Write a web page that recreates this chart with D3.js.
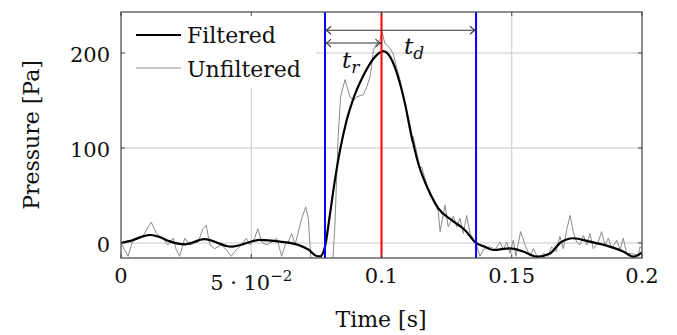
<!DOCTYPE html>
<html>
<head>
<meta charset="utf-8">
<script src="https://cdn.jsdelivr.net/npm/d3@7"></script>
<style>
  body { margin: 0; background: #fff; }
  text { font-family: "DejaVu Serif", serif; fill: #111; }
</style>
</head>
<body>
<div id="chart"></div>
<script>
// time [s] and pressure [Pa]
var rawTime = [0, 0.0027, 0.0046, 0.0084, 0.0116, 0.0136, 0.0161, 0.0180, 0.0200, 0.0212, 0.0225, 0.0245, 0.0264,
  0.0296, 0.0315, 0.0327, 0.0341, 0.0360, 0.0385, 0.0404, 0.0423, 0.0443, 0.0462, 0.0481, 0.0494, 0.0513, 0.0525,
  0.0540, 0.0559, 0.0579, 0.0598, 0.0617, 0.0630, 0.0642, 0.0655, 0.0668, 0.0681, 0.0694, 0.0709, 0.0719, 0.0729,
  0.0764, 0.0813, 0.0821, 0.0834, 0.0843, 0.0860, 0.0879, 0.0892, 0.0905, 0.0930, 0.0943, 0.0956, 0.0962, 0.0969,
  0.0982, 0.0994, 0.1002, 0.1013, 0.1033, 0.1045, 0.1058, 0.1071, 0.1090, 0.1116, 0.1122, 0.1148, 0.1154, 0.1186,
  0.1199, 0.1218, 0.1225, 0.1244, 0.1256, 0.1276, 0.1289, 0.1301, 0.1314, 0.1327, 0.1340, 0.1363, 0.1378, 0.1391,
  0.1417, 0.1436, 0.1455, 0.1468, 0.1481, 0.1493, 0.1506, 0.1516, 0.1534, 0.1551, 0.1570, 0.1583, 0.1602, 0.1621,
  0.1640, 0.1653, 0.1670, 0.1685, 0.1698, 0.1711, 0.1724, 0.1736, 0.1749, 0.1762, 0.1775, 0.1788, 0.1800, 0.1813,
  0.1832, 0.1845, 0.1858, 0.1871, 0.1884, 0.1903, 0.1916, 0.1928, 0.1941, 0.1960, 0.1980, 0.1986, 0.1992, 0.2];
var rawValue = [0, -14, 3, 7, 22, 10, 5, -2, 5, -7, -14, 5, -2,
  1, 15, 19, -2, -6, -2, -7, -14, -7, -2, 5, -2, 5, 15,
  1, -2, 1, 5, -14, -2, 1, 10, -2, 12, 26, 38, 26, -18,
  -22, -18, 17, 115, 154, 172, 154, 150, 154, 156, 164, 175, 186, 203,
  210, 214, 222, 210, 205, 199, 185, 172, 145, 107, 112, 79, 80, 50,
  47, 33, 12, 40, 17, 28, 17, 26, 10, 29, 10, 0, -14, -7,
  -4, -7, 1, -7, 1, -11, 3, -14, 12, -2, -14, -6, -17, -11,
  -14, -4, -9, 7, -6, 14, 29, 12, 1, -2, 8, -2, 10, -6,
  1, 12, -2, 5, -6, 3, -7, 5, -11, -11, -13, -14, -4, -6];

var filtTime = [0, 0.0046, 0.0084, 0.0115, 0.0150, 0.0185, 0.0245, 0.0320, 0.0424, 0.0534, 0.0610, 0.0680,
  0.0720, 0.0751, 0.0765, 0.0783, 0.0802, 0.0821, 0.0841, 0.0866, 0.0892, 0.0930, 0.0969, 0.1007, 0.1033, 0.1071,
  0.1090, 0.1116, 0.1141, 0.1180, 0.1218, 0.1270, 0.1320, 0.1363, 0.1397, 0.1430, 0.1493, 0.1544, 0.1596,
  0.1647, 0.1685, 0.1736, 0.1800, 0.1864, 0.1928, 0.1967, 0.2];
var filtValue = [0, 3, 7, 8.4, 6, 2, -1.4, 4, -3.9, 3.2, 1.4, -2,
  -7, -13.7, -14, -4, 30, 66, 98, 129, 152, 176, 194, 202, 196, 168,
  147, 112, 84, 56, 36.5, 24, 13.7, 0, -4, -7.4, -5.6, -9, -14.4,
  -11, 0, 5, 1.4, -2.8, -9, -14.4, -10];

var xTicks = [0, 0.05, 0.1, 0.15, 0.2];
var yTicks = [0, 100, 200];
var startTime = 0.0783, peakTime = 0.1, endTime = 0.1363;

var W = 677, H = 335;
var x = d3.scaleLinear().domain([0, 0.2]).range([121, 642]);
var y = d3.scaleLinear().domain([-15.8, 243.2]).range([258, 12]);

var svg = d3.select("#chart").append("svg")
  .attr("width", W).attr("height", H);

svg.append("clipPath").attr("id", "clip")
  .append("rect")
  .attr("x", 121).attr("y", 12).attr("width", 521).attr("height", 246);

// grid
svg.selectAll("line.gx").data(xTicks.slice(1, -1)).enter().append("line")
  .attr("x1", d => x(d)).attr("x2", d => x(d)).attr("y1", 12).attr("y2", 258)
  .attr("stroke", "#c8c8c8").attr("stroke-width", 1);
svg.selectAll("line.gy").data(yTicks).enter().append("line")
  .attr("x1", 121).attr("x2", 642).attr("y1", d => y(d)).attr("y2", d => y(d))
  .attr("stroke", "#c8c8c8").attr("stroke-width", 1);

var plot = svg.append("g").attr("clip-path", "url(#clip)");

var raw = rawTime.map((t, i) => [t, rawValue[i]]);
var filt = filtTime.map((t, i) => [t, filtValue[i]]);

plot.append("path").datum(raw)
  .attr("d", d3.line().x(d => x(d[0])).y(d => y(d[1])))
  .attr("fill", "none").attr("stroke", "#8c8c8c").attr("stroke-width", 1);

plot.append("path").datum(filt)
  .attr("d", d3.line().curve(d3.curveMonotoneX).x(d => x(d[0])).y(d => y(d[1])))
  .attr("fill", "none").attr("stroke", "#000").attr("stroke-width", 2.2);

// legend (white box hides grid)
svg.append("rect").attr("x", 122).attr("y", 13).attr("width", 194).attr("height", 75).attr("fill", "#fff");
svg.append("line").attr("x1", 136).attr("x2", 181).attr("y1", 35).attr("y2", 35)
  .attr("stroke", "#000").attr("stroke-width", 2.2);
svg.append("text").attr("x", 187).attr("y", 43).attr("font-size", 22).text("Filtered");
svg.append("line").attr("x1", 136).attr("x2", 181).attr("y1", 68).attr("y2", 68)
  .attr("stroke", "#8c8c8c").attr("stroke-width", 1);
svg.append("text").attr("x", 187).attr("y", 77).attr("font-size", 22).text("Unfiltered");

// marker lines
[[startTime, "#0000ff"], [endTime, "#0000ff"], [peakTime, "#ff0000"]].forEach(function (m) {
  svg.append("line")
    .attr("x1", x(m[0])).attr("x2", x(m[0])).attr("y1", 12).attr("y2", 258)
    .attr("stroke", m[1]).attr("stroke-width", 2);
});

// double arrows
function dblArrow(t0, t1, v) {
  var x0 = x(t0), x1 = x(t1), yy = y(v);
  svg.append("line").attr("x1", x0).attr("x2", x1).attr("y1", yy).attr("y2", yy)
    .attr("stroke", "#333").attr("stroke-width", 1.1);
  svg.append("path")
    .attr("d", "M" + (x0 + 6) + "," + (yy - 4) + "Q" + (x0 + 2) + "," + yy + " " + x0 + "," + yy +
      "Q" + (x0 + 2) + "," + yy + " " + (x0 + 6) + "," + (yy + 4) +
      "M" + (x1 - 6) + "," + (yy - 4) + "Q" + (x1 - 2) + "," + yy + " " + x1 + "," + yy +
      "Q" + (x1 - 2) + "," + yy + " " + (x1 - 6) + "," + (yy + 4))
    .attr("fill", "none").attr("stroke", "#333").attr("stroke-width", 1.1);
}
dblArrow(startTime, endTime, 224);
dblArrow(startTime, peakTime, 210.5);

var tr = svg.append("text").attr("x", 342).attr("y", 68).attr("font-size", 23).attr("font-style", "italic");
tr.append("tspan").text("t");
tr.append("tspan").attr("dy", 5).attr("font-size", 17).text("r");
var td = svg.append("text").attr("x", 404).attr("y", 54).attr("font-size", 23).attr("font-style", "italic");
td.append("tspan").text("t");
td.append("tspan").attr("dy", 5).attr("font-size", 17).text("d");

// frame and ticks
svg.append("rect").attr("x", 121).attr("y", 12).attr("width", 521).attr("height", 246)
  .attr("fill", "none").attr("stroke", "#444").attr("stroke-width", 1.2);
xTicks.forEach(function (t) {
  svg.append("line").attr("x1", x(t)).attr("x2", x(t)).attr("y1", 258).attr("y2", 254).attr("stroke", "#444");
  svg.append("line").attr("x1", x(t)).attr("x2", x(t)).attr("y1", 12).attr("y2", 16).attr("stroke", "#444");
});
yTicks.forEach(function (v) {
  svg.append("line").attr("x1", 121).attr("x2", 125).attr("y1", y(v)).attr("y2", y(v)).attr("stroke", "#444");
  svg.append("line").attr("x1", 642).attr("x2", 638).attr("y1", y(v)).attr("y2", y(v)).attr("stroke", "#444");
});

// tick labels
xTicks.forEach(function (t) {
  var lbl = svg.append("text").attr("x", x(t)).attr("y", 283).attr("font-size", 21).attr("text-anchor", "middle");
  if (t === 0.05) {
    lbl.attr("y", 290);
    lbl.append("tspan").text("5 \u00b7 10");
    lbl.append("tspan").attr("dy", -9).attr("font-size", 15).text("\u22122");
  } else {
    lbl.text(String(t));
  }
});
yTicks.forEach(function (v) {
  svg.append("text").attr("x", 110).attr("y", y(v) + 9).attr("font-size", 21).attr("text-anchor", "end").text(v);
});

// axis titles
svg.append("text").attr("x", 381).attr("y", 327).attr("font-size", 22).attr("text-anchor", "middle").text("Time [s]");
svg.append("text").attr("transform", "translate(39,135) rotate(-90)")
  .attr("font-size", 22).attr("text-anchor", "middle").text("Pressure [Pa]");
</script>
</body>
</html>
